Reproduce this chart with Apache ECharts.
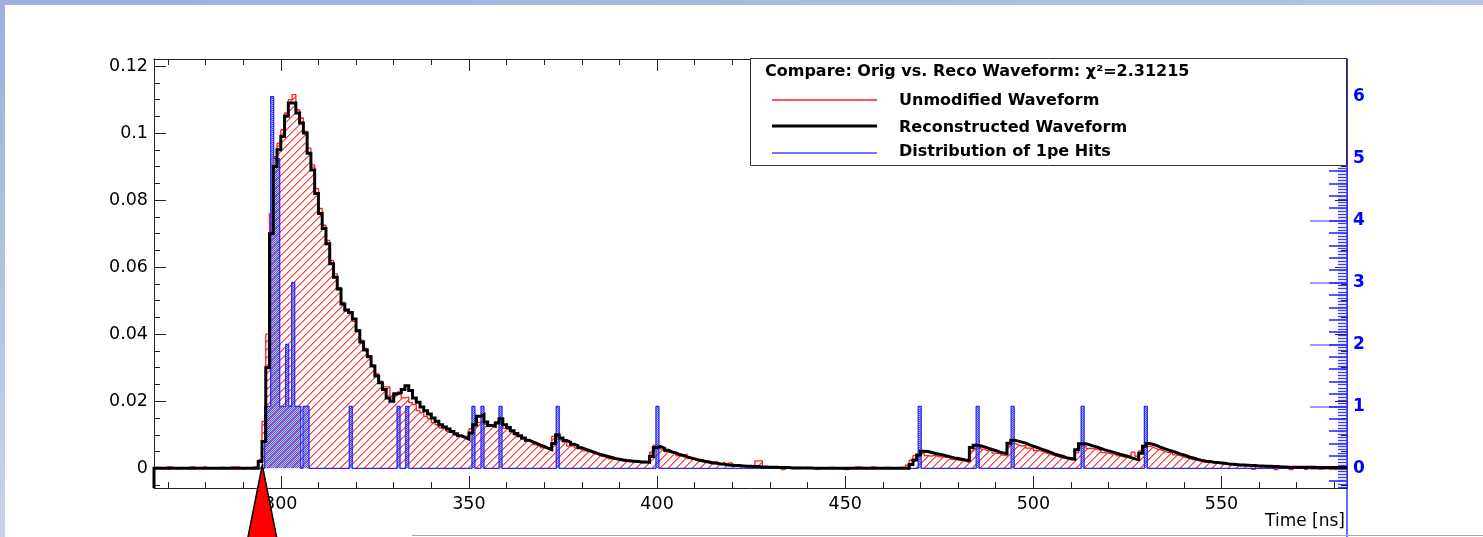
<!DOCTYPE html>
<html><head><meta charset="utf-8">
<script src="https://cdn.jsdelivr.net/npm/echarts@6/dist/echarts.min.js"></script>
<style>html,body{margin:0;padding:0;background:#fff}#c{width:1483px;height:537px}</style>
</head><body><div id="c"></div>
<script>
// ---------------- data ----------------
const T_START = 266;   // start of first waveform bin [ns]
const BIN_W = 1;       // waveform bin width [ns]

const RECO = [
0,0,0,0,0,0,0,0,0,0,
0,0,0,0,0,0,0,0,0,0,
0,0,0,0,0,0,0,0,0.002,0.008,
0.030,0.070,0.090,0.095,0.099,0.105,0.109,0.109,0.106,0.103,
0.100,0.094,0.089,0.082,0.076,0.0715,0.067,0.061,0.057,0.0535,
0.049,0.0472,0.0465,0.0445,0.041,0.0377,0.0353,0.0333,0.0305,0.0275,
0.0255,0.0235,0.021,0.020,0.0222,0.0225,0.0235,0.0246,0.0232,0.021,
0.0197,0.0183,0.0172,0.0162,0.015,0.014,0.013,0.0123,0.0117,0.011,
0.0103,0.0097,0.0092,0.0087,0.0105,0.013,0.0155,0.016,0.0138,0.0128,
0.0125,0.0135,0.0148,0.013,0.0122,0.0112,0.0104,0.0097,0.009,0.0084,
0.0079,0.0074,0.0069,0.0065,0.006,0.0056,0.0074,0.0099,0.009,0.0083,
0.0078,0.0072,0.0067,0.0061,0.0057,0.0053,0.0049,0.0045,0.0041,0.0038,
0.0035,0.0032,0.0029,0.0027,0.0025,0.0023,0.0022,0.0021,0.002,0.0019,
0.0019,0.0018,0.0035,0.0062,0.0065,0.006,0.0054,0.0049,0.0046,0.0041,
0.0038,0.0034,0.0031,0.0028,0.0025,0.0023,0.002,0.0018,0.0016,0.0015,
0.0013,0.0012,0.001,0.0009,0.0008,0.0008,0.0007,0.0006,0.0006,0.0005,
0.0005,0.0004,0.0004,0.0003,0.0003,0.0003,0.0002,0.0002,0.0002,0.0001,
0.0001,0.0001,0.0001,0.0001,0.0001,0,0,0,0,0,
0,0,0,0,0,0,0,0,0,0,
0,0,0,0,0,0,0,0,0,0,
0,0.0011,0.0025,0.004,0.0051,0.005,0.0047,0.0044,0.0042,0.004,
0.0037,0.0034,0.0031,0.0029,0.0027,0.0025,0.0024,0.0062,0.0069,0.0067,
0.0064,0.006,0.0056,0.0053,0.0049,0.0046,0.0044,0.0075,0.0084,0.0081,
0.0078,0.0075,0.007,0.0066,0.0062,0.0058,0.0054,0.005,0.0046,0.0041,
0.0038,0.0035,0.0031,0.0029,0.0027,0.0055,0.0073,0.0073,0.007,0.0066,
0.0063,0.0059,0.0055,0.0052,0.0049,0.0046,0.0042,0.0039,0.0036,0.0032,
0.0028,0.0026,0.0045,0.0066,0.0074,0.0071,0.0067,0.0062,0.0058,0.0054,
0.0051,0.0047,0.0043,0.004,0.0036,0.0032,0.0029,0.0026,0.0023,0.0021,
0.002,0.0018,0.0017,0.0016,0.0015,0.0013,0.0012,0.0011,0.001,0.001,
0.0009,0.0008,0.0008,0.0007,0.0007,0.0006,0.0006,0.0005,0.0005,0.0004,
0.0004,0.0003,0.0003,0.0003,0.0003,0.0003,0.0003,0.0003,0.0003,0.0002,
0.0002,0.0002,0.0002,0.0002,0.0002,0.0002,0.0002,0.0002
];

const ORIG = [
0.0003,0.0003,0,0.0004,0.0004,0,0,0.0003,0,0.0004,
0.0004,0,0.0002,0.0004,0,0,0,0.0003,0.0003,0,
0.0004,0.0004,0.0004,0,0.0003,0,0.0004,0.0006,0.0025,0.014,
0.040,0.076,0.093,0.097,0.101,0.106,0.110,0.1115,0.107,0.1045,
0.1005,0.0955,0.0905,0.0835,0.0775,0.0725,0.068,0.062,0.058,0.054,
0.0495,0.047,0.0462,0.0438,0.0412,0.0382,0.0358,0.0335,0.0308,0.0282,
0.026,0.0243,0.0243,0.0215,0.0218,0.0228,0.021,0.0212,0.0196,0.019,
0.0172,0.0166,0.0155,0.0148,0.0136,0.013,0.0121,0.0119,0.011,0.0106,
0.0099,0.0095,0.0093,0.0098,0.0118,0.0125,0.0137,0.0142,0.0131,0.0129,
0.0129,0.0139,0.0133,0.0119,0.0114,0.0108,0.0099,0.0096,0.0087,0.0081,
0.008,0.007,0.0067,0.0061,0.0059,0.0064,0.0095,0.0103,0.0085,0.0078,
0.0066,0.0068,0.0061,0.0058,0.0052,0.005,0.0049,0.0043,0.0038,0.0035,
0.0036,0.0028,0.0027,0.0026,0.0022,0.0021,0.0024,0.0019,0.0018,0.0017,
0.0018,0.0016,0.0048,0.0069,0.0058,0.0055,0.0049,0.0045,0.0047,0.0037,
0.0039,0.0042,0.0029,0.0027,0.0024,0.0025,0.0019,0.0022,0.0014,0.002,
0.0013,0.0018,0.0009,0.0016,0.0007,0.0006,0.0006,0.0005,0.0004,0.0004,
0.0022,0.0022,0.0004,0.0003,0.0003,0.0002,0.0003,-0.0004,0.0002,0.0002,
0.0003,0.0003,0.0002,0.0003,0.0001,0.0001,-0.0004,0.0002,0.0001,0.0003,
0.0003,0,0,-0.0004,-0.0004,0.0002,0.0004,0.0004,0.0002,0,
0.0004,0.0004,0,0.0002,0.0003,0.0003,0,0.0002,0.0003,0.0003,
0.0009,0.0024,0.0038,0.0039,0.0045,0.0038,0.0036,0.0039,0.0034,0.0035,
0.0032,0.0035,0.0027,0.0024,0.0025,0.0021,0.0018,0.0051,0.0058,0.0063,
0.0057,0.0052,0.0056,0.0045,0.0044,0.0039,0.0037,0.0066,0.0075,0.007,
0.0066,0.0068,0.006,0.0061,0.0053,0.0052,0.0048,0.0043,0.004,0.0037,
0.0033,0.003,0.0028,0.0025,0.0025,0.0046,0.0068,0.0065,0.0059,0.0059,
0.0057,0.0053,0.0047,0.0045,0.0042,0.0043,0.0037,0.0034,0.0032,0.0038,
0.0048,0.0036,0.0052,0.0064,0.0066,0.0062,0.0057,0.0055,0.005,0.0047,
0.0048,0.004,0.0038,0.0034,0.0031,0.0027,0.0025,0.0023,0.0021,0.0018,
0.0021,0.0016,0.0019,0.0014,0.0012,0.0013,0.0011,0.0009,0.0008,0.0009,
0.0008,0.0007,-0.0003,0.0007,0.0005,0.0005,0.0006,0.0004,-0.0004,0.0004,
0.0005,0.0003,-0.0004,0.0004,0.0003,0.0004,-0.0003,0.0003,0.0003,0.0004,
-0.0003,0.0003,0.0003,-0.0003,0.0003,0.0004,0.0002,0.0003
];

// 1pe hits: bin start time [ns] and number of hits in that bin
const HIT_TIMES  = [295.7,296.5,297.3,298.1,298.9,299.7,300.5,301.3,302.1,302.9,303.7,304.5,305.9,306.7,
                    318.2,330.9,333.2,350.8,353.2,358.0,373.2,399.7,469.4,484.8,494.1,512.7,529.5];
const HIT_COUNTS = [1,1,6,5,5,1,1,2,1,3,1,1,1,1,
                    1,1,1,1,1,1,1,1,1,1,1,1,1];
const HIT_W = 0.8;

const X_TICKS = [300,350,400,450,500,550];
const Y_TICKS = [0,0.02,0.04,0.06,0.08,0.1,0.12];
const HIT_TICKS = [0,1,2,3,4,5,6];
const X_TITLE = 'Time [ns]';
const LEGEND_TITLE = 'Compare: Orig vs. Reco Waveform: \u03c7\u00b2=2.31215';
const LEGEND_ITEMS = ['Unmodified Waveform','Reconstructed Waveform','Distribution of 1pe Hits'];

// ---------------- axis ranges ----------------
const XMIN = 266.3, XMAX = 583.36;
const YMIN = -0.00588, YMAX = 0.1221;
const HMIN = -1.109, HMAX = 6.609;

function steps(a, b, s) {
  const out = [];
  for (let k = Math.ceil(a / s - 1e-9); k * s <= b + 1e-9; k++) out.push(+(k * s).toFixed(6));
  return out;
}
function histPoints(vals, t0, w) {
  const pts = [];
  vals.forEach((v, i) => {
    const a = Math.max(t0 + i * w, XMIN), b = Math.min(t0 + (i + 1) * w, XMAX);
    if (b > a) { pts.push([a, v], [b, v]); }
  });
  return pts;
}
function hitPoints() {
  const pts = [[XMIN, 0]];
  let prevEnd = XMIN;
  HIT_TIMES.forEach((t, i) => {
    const e = t + HIT_W, c = HIT_COUNTS[i];
    if (t > prevEnd + 1e-6) { pts.push([prevEnd, 0], [t, 0]); }
    pts.push([t, c], [e, c]);
    prevEnd = e;
  });
  pts.push([prevEnd, 0], [XMAX, 0]);
  return pts;
}

// red diagonal hatch tile (soft 2px line)
function hatch() {
  const n = 8;
  const c = document.createElement('canvas'); c.width = n; c.height = n;
  const g = c.getContext('2d');
  for (let i = 0; i < n; i++) {
    g.fillStyle = 'rgb(255,70,70)';
    g.fillRect(i, n - 1 - i, 1, 1);
    g.fillStyle = 'rgb(255,125,125)';
    g.fillRect((i + 1) % n, n - 1 - i, 1, 1);
  }
  return c;
}
// blue dotted tile
function dots() {
  const c = document.createElement('canvas'); c.width = 2; c.height = 2;
  const g = c.getContext('2d');
  g.fillStyle = 'rgba(100,100,215,0.40)'; g.fillRect(0, 0, 2, 2);
  g.fillStyle = 'rgb(85,85,215)'; g.fillRect(0, 0, 1, 1); g.fillRect(1, 1, 1, 1);
  return c;
}

const FONT = 'DejaVu Sans';
const TICK_C = '#222';

function xAx(o) {
  return Object.assign({type: 'value', gridIndex: 0, min: XMIN, max: XMAX,
    splitLine: {show: false}, axisLine: {show: false, onZero: false},
    axisLabel: {show: false}, axisTick: {show: false}}, o);
}
function yAx(o) {
  return Object.assign({type: 'value', gridIndex: 0, min: YMIN, max: YMAX,
    splitLine: {show: false}, axisLine: {show: false, onZero: false},
    axisLabel: {show: false}, axisTick: {show: false}}, o);
}
function tick(vals, len, color, w) {
  return {show: true, inside: true, length: len, customValues: vals, lineStyle: {color: color || TICK_C, width: w || 1}};
}
const frameLine = {show: true, onZero: false, lineStyle: {color: TICK_C, width: 1}};

const X_MINOR = steps(XMIN, XMAX, 10);
const Y_MINOR = steps(YMIN, YMAX, 0.005);
const H_MED = steps(-0.3, 6.6, 0.2);
const H_SMALL = steps(-0.3, 6.6, 0.05);

const chart = echarts.init(document.getElementById('c'), null, {renderer: 'canvas'});
const option = {
  animation: false,
  backgroundColor: '#fff',
  grid: [
    {left: 154, right: 136, top: 59, bottom: 49},
    {left: 154, right: 136, top: 59, bottom: 0}
  ],
  xAxis: [
    xAx({position: 'bottom', axisLine: frameLine, axisTick: tick(X_TICKS, 12),
      axisLabel: {show: true, customValues: X_TICKS, margin: 7, color: '#000', fontFamily: FONT, fontSize: 17.5},
      name: X_TITLE, nameLocation: 'end', nameGap: -2,
      nameTextStyle: {align: 'right', verticalAlign: 'top', padding: [25, 0, 0, 0], color: '#000', fontFamily: FONT, fontSize: 17}}),
    xAx({position: 'bottom', axisTick: tick(X_MINOR, 6)}),
    xAx({position: 'top', axisLine: frameLine, axisTick: tick(X_TICKS, 12)}),
    xAx({position: 'top', axisTick: tick(X_MINOR, 6)}),
    xAx({gridIndex: 1, show: false})
  ],
  yAxis: [
    yAx({position: 'left', axisLine: frameLine, axisTick: tick(Y_TICKS, 12),
      axisLabel: {show: true, customValues: Y_TICKS, margin: 6, color: '#000', fontFamily: FONT, fontSize: 17.5,
        formatter: v => String(v)}}),
    yAx({position: 'left', axisTick: tick(Y_MINOR, 6)}),
    yAx({position: 'right', axisLine: frameLine, axisTick: tick(Y_TICKS, 12)}),
    yAx({position: 'right', axisTick: tick(Y_MINOR, 6)}),
    yAx({gridIndex: 1, position: 'right', min: HMIN, max: HMAX,
      axisLine: {show: true, onZero: false, lineStyle: {color: '#3a3aff', width: 1.5}},
      axisTick: tick(HIT_TICKS, 37, '#7a7aff', 1.5),
      axisLabel: {show: true, customValues: HIT_TICKS, margin: 6, color: '#0000ff', fontFamily: FONT, fontWeight: 'bold', fontSize: 17}}),
    yAx({gridIndex: 1, position: 'right', min: HMIN, max: HMAX, axisTick: tick(H_MED, 18, '#2020ff', 1.5)}),
    yAx({gridIndex: 1, position: 'right', min: HMIN, max: HMAX, axisTick: tick(H_SMALL, 9, '#3a3aff', 1.3)})
  ],
  series: [
    {name: LEGEND_ITEMS[0], type: 'line', xAxisIndex: 0, yAxisIndex: 0, data: histPoints(ORIG, T_START, BIN_W),
      symbol: 'none', z: 2, color: '#ff0000', lineStyle: {color: '#ff2020', width: 1.3},
      areaStyle: {color: {image: hatch(), repeat: 'repeat'}, opacity: 1}},
    {name: LEGEND_ITEMS[2], type: 'line', xAxisIndex: 4, yAxisIndex: 4, data: hitPoints(),
      symbol: 'none', z: 3, color: '#2a2aff', lineStyle: {color: '#2a2aff', width: 1.3},
      areaStyle: {color: {image: dots(), repeat: 'repeat'}, opacity: 1}},
    {name: LEGEND_ITEMS[1], type: 'line', xAxisIndex: 0, yAxisIndex: 0,
      data: [[XMIN, YMIN]].concat(histPoints(RECO, T_START, BIN_W)),
      symbol: 'none', z: 4, color: '#000', lineStyle: {color: '#000', width: 3, join: 'miter'}}
  ],
  graphic: [
    {type: 'rect', z: 1, shape: {x: 0, y: 0, width: 1483, height: 5}, silent: true,
      style: {fill: new echarts.graphic.LinearGradient(0, 0, 1, 0, [{offset: 0, color: '#9db0dc'}, {offset: 1, color: '#b4c3e6'}])}},
    {type: 'rect', z: 1, shape: {x: 0, y: 0, width: 5, height: 537}, silent: true,
      style: {fill: new echarts.graphic.LinearGradient(0, 0, 0, 1, [{offset: 0, color: '#9db0dc'}, {offset: 1, color: '#c8d2ec'}])}},
    {type: 'line', z: 1, shape: {x1: 412, y1: 535.5, x2: 1483, y2: 535.5}, silent: true, style: {stroke: '#a8a8a8', lineWidth: 1}},
    // legend box
    {type: 'rect', z: 100, shape: {x: 750.5, y: 58.5, width: 596, height: 107}, style: {fill: '#fff', stroke: '#333', lineWidth: 1}},
    {type: 'text', z: 101, x: 765, y: 72, style: {text: LEGEND_TITLE, font: 'bold 16px "DejaVu Sans"', fill: '#000', align: 'left', verticalAlign: 'middle'}},
    {type: 'line', z: 101, shape: {x1: 772, y1: 100, x2: 877, y2: 100}, style: {stroke: '#ff2020', lineWidth: 1.4}},
    {type: 'line', z: 101, shape: {x1: 772, y1: 126, x2: 877, y2: 126}, style: {stroke: '#000', lineWidth: 3}},
    {type: 'line', z: 101, shape: {x1: 772, y1: 153, x2: 877, y2: 153}, style: {stroke: '#4848ff', lineWidth: 1.4}},
    {type: 'text', z: 101, x: 899, y: 101, style: {text: LEGEND_ITEMS[0], font: 'bold 16px "DejaVu Sans"', fill: '#000', align: 'left', verticalAlign: 'middle'}},
    {type: 'text', z: 101, x: 899, y: 127.5, style: {text: LEGEND_ITEMS[1], font: 'bold 16px "DejaVu Sans"', fill: '#000', align: 'left', verticalAlign: 'middle'}},
    {type: 'text', z: 101, x: 899, y: 152, style: {text: LEGEND_ITEMS[2], font: 'bold 16px "DejaVu Sans"', fill: '#000', align: 'left', verticalAlign: 'middle'}},
    // red pointer arrow
    {type: 'polygon', z: 110, shape: {points: [[262.3, 465], [246.4, 545], [278.2, 545]]},
      style: {fill: '#ff0000', stroke: '#000', lineWidth: 1.5}}
  ]
};
chart.setOption(option);
</script>
</body></html>
